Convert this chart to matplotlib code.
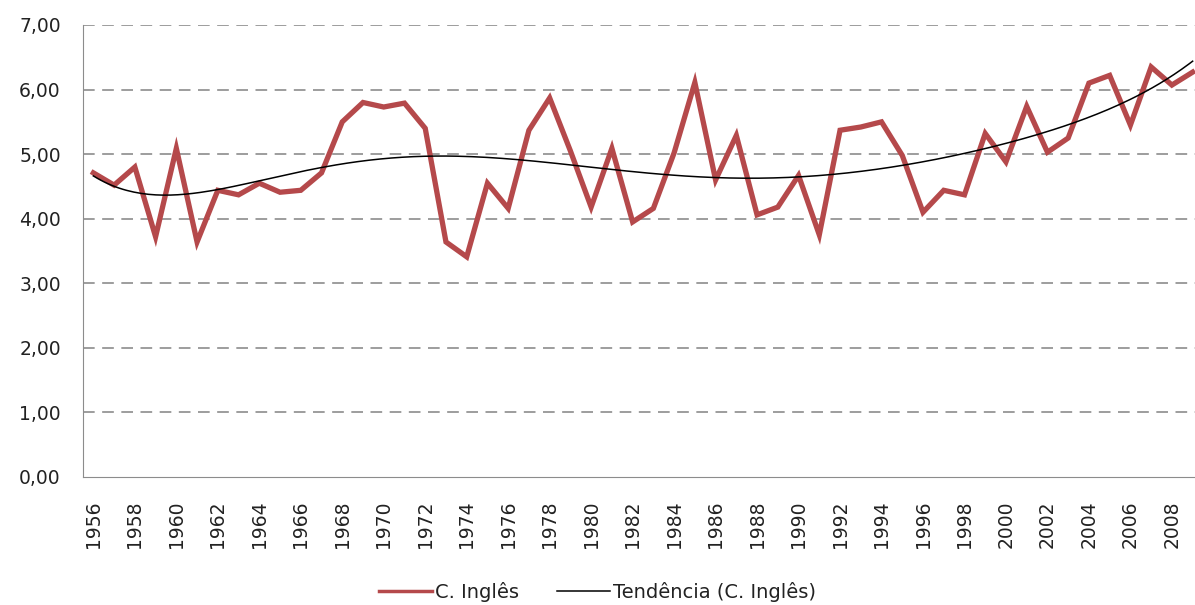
import numpy as np
import matplotlib
matplotlib.use("Agg")
import matplotlib.pyplot as plt

plt.rcParams['font.family'] = ['DejaVu Sans']

years = list(range(1956, 2010))
c_ingles = [4.71, 4.52, 4.80, 3.72, 5.09, 3.64, 4.44, 4.37, 4.55, 4.41,
            4.44, 4.71, 5.50, 5.80, 5.73, 5.79, 5.40, 3.64, 3.41, 4.55,
            4.16, 5.37, 5.87, 5.05, 4.18, 5.09, 3.95, 4.16, 5.02, 6.11,
            4.60, 5.29, 4.06, 4.18, 4.67, 3.75, 5.37, 5.42, 5.50, 4.98,
            4.10, 4.44, 4.37, 5.32, 4.88, 5.74, 5.03, 5.25, 6.10, 6.22,
            5.45, 6.35, 6.07, 6.27]
y_ticks = [0, 1, 2, 3, 4, 5, 6, 7]
y_labels = ['0,00', '1,00', '2,00', '3,00', '4,00', '5,00', '6,00', '7,00']

red = '#B5494B'

fig = plt.figure(figsize=(11.95, 6.05), dpi=100)
ax = fig.add_axes([83 / 1195, 1 - 477 / 605, 1120 / 1195, (477 - 25) / 605])

x = np.arange(len(years))
ax.plot(x, c_ingles, color=red, linewidth=3.8, solid_joinstyle='miter',
        label='C. Inglês', zorder=3)

# polynomial trend line (order 6), like the Excel one
coef = np.polyfit(x + 1, c_ingles, 6)
xs = np.linspace(0, len(years) - 1, 300)
ax.plot(xs, np.polyval(coef, xs + 1), color='black', linewidth=1.1,
        label='Tendência (C. Inglês)', zorder=4)

ax.set_xlim(-0.5, len(years) - 0.5)
ax.set_ylim(0, 7)
ax.set_yticks(y_ticks)
ax.set_yticklabels(y_labels)
ax.set_xticks(x[::2])
ax.set_xticklabels([str(yr) for yr in years[::2]], rotation=90)
ax.tick_params(axis='y', length=0, pad=16, labelsize=13.5, labelcolor='#222222')
ax.tick_params(axis='x', length=0, pad=17, labelsize=13.5, labelcolor='#222222')

for v in y_ticks[1:]:
    ax.axhline(v, color='#8c8c8c', linewidth=1.2, dashes=(7, 4.5), zorder=1)

for side in ['top', 'right']:
    ax.spines[side].set_visible(False)
ax.spines['left'].set_color('#8c8c8c')
ax.spines['bottom'].set_color('#8c8c8c')

leg = fig.legend(loc='center', bbox_to_anchor=(0.5, 0.022), ncol=2, frameon=False,
                 fontsize=14, handlelength=2.7, handletextpad=0.15, columnspacing=2.0)
leg.get_lines()[0].set_linewidth(2.5)
for t in leg.get_texts():
    t.set_color('#222222')

fig.savefig('out.png', dpi=100)
